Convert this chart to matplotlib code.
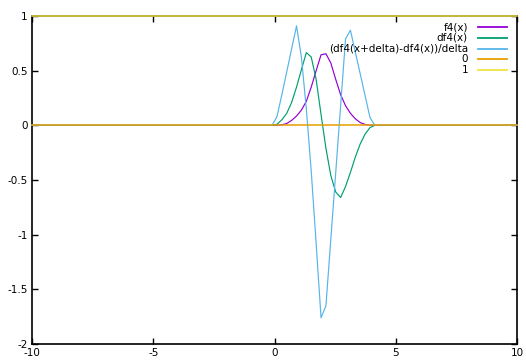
import matplotlib
matplotlib.use("Agg")
import matplotlib.pyplot as plt
from matplotlib.lines import Line2D

# sample positions (gnuplot-style grid, flat zero outside the bump)
x = [-10, -0.101, 0.101, 0.303, 0.505, 0.707, 0.909, 1.111, 1.313, 1.515, 1.717,
     1.919, 2.121, 2.323, 2.525, 2.727, 2.929, 3.131, 3.333, 3.535, 3.737,
     3.939, 4.141, 10]

f4 = [0, 0, 0, 0.004, 0.017, 0.045, 0.085, 0.14, 0.22, 0.35, 0.50,
      0.645, 0.655, 0.57, 0.42, 0.28, 0.18, 0.11, 0.06, 0.025, 0.008,
      0.002, 0, 0]

df4 = [0, 0, 0.01, 0.05, 0.11, 0.21, 0.35, 0.51, 0.665, 0.625, 0.42,
       0.10, -0.21, -0.46, -0.61, -0.66, -0.56, -0.43, -0.29, -0.17, -0.08,
       -0.02, 0, 0]

fd = [0, 0, 0.08, 0.28, 0.49, 0.70, 0.91, 0.62, 0.15, -0.42, -1.08,
      -1.76, -1.65, -1.04, -0.43, 0.18, 0.79, 0.87, 0.67, 0.47, 0.27,
      0.07, 0, 0]

const_x = [-10, 10]
const0 = [0, 0]
const1 = [1, 1]

labels = ["f4(x)", "df4(x)", "(df4(x+delta)-df4(x))/delta", "0", "1"]
colors = ["#9400d3", "#009e73", "#56b4e9", "#e69f00", "#f0e442"]
widths = [0.85, 0.85, 0.85, 1.1, 1.1]

xticks = [-10, -5, 0, 5, 10]
yticks = [-2, -1.5, -1, -0.5, 0, 0.5, 1]
yticklabels = ["-2", "-1.5", "-1", "-0.5", "0", "0.5", "1"]

fig = plt.figure(figsize=(5.26, 3.6), dpi=100)
ax = fig.add_axes([32/526, 16/360, 485/526, 328/360])

series = [(x, f4), (x, df4), (x, fd), (const_x, const0), (const_x, const1)]
for (xs, ys), c, w in zip(series, colors, widths):
    ax.plot(xs, ys, color=c, lw=w, clip_on=False)

ax.set_xlim(-10, 10)
ax.set_ylim(-2, 1)
ax.set_xticks(xticks)
ax.set_xticklabels([str(t) for t in xticks])
ax.set_yticks(yticks)
ax.set_yticklabels(yticklabels)
ax.tick_params(direction="in", length=4, width=1, top=True, right=True,
               labelsize=7.5, colors="black", pad=3)
for s in ax.spines.values():
    s.set_linewidth(1.2)
    s.set_color("black")
    s.set_zorder(1)

# gnuplot-style key: right-aligned text, sample line to the right
row_y = [27, 37.8, 48.5, 59.3, 70.2]
for lab, c, yp in zip(labels, colors, row_y):
    fy = 1 - yp / 360
    fig.text(468/526, fy, lab, ha="right", va="center", fontsize=7.5)
    fig.add_artist(Line2D([478/526, 507/526], [fy, fy], color=c, lw=1.3))

fig.savefig("out.png", dpi=100)
